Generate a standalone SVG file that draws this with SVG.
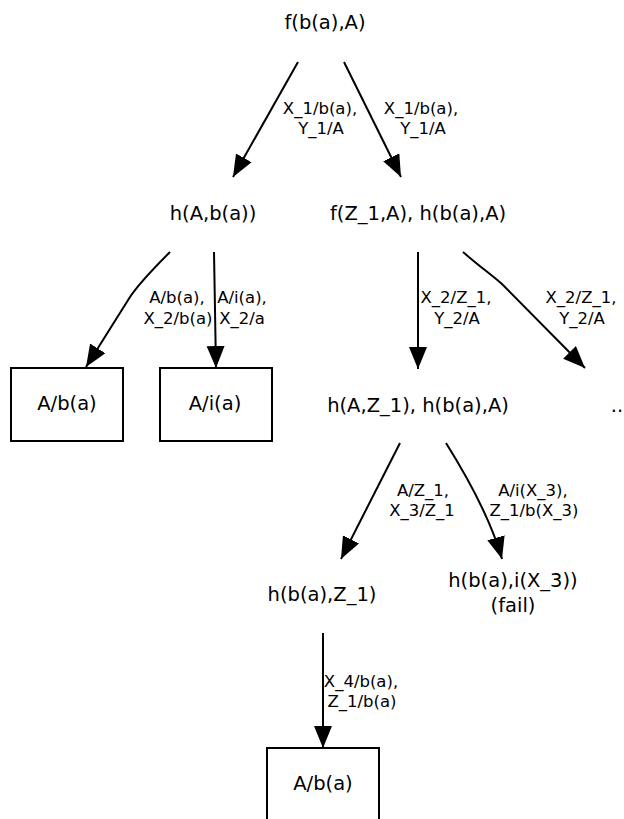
<svg xmlns="http://www.w3.org/2000/svg" width="624" height="819" viewBox="0 0 624 819">
<style>
  .n { font-family: "DejaVu Sans", sans-serif; font-size: 19.5px; fill: #000; text-anchor: middle; }
  .l { font-family: "DejaVu Sans", sans-serif; font-size: 16.5px; fill: #000; text-anchor: middle; }
  .e { fill: none; stroke: #000; stroke-width: 2; }
  .b { fill: #fff; stroke: #000; stroke-width: 2; }
</style>
<defs>
  <marker id="ah" markerUnits="userSpaceOnUse" markerWidth="24" markerHeight="20" refX="22" refY="9" orient="auto">
    <path d="M0,0 L22,9 L0,18 z" fill="#000"/>
  </marker>
</defs>
<rect width="624" height="819" fill="#fff"/>
<g id="edges">
  <path class="e" marker-end="url(#ah)" d="M298,62 L233,177"/>
  <path class="e" marker-end="url(#ah)" d="M344,62 L401,177"/>
  <path class="e" marker-end="url(#ah)" d="M170,252 C150,272 138,285 130,297 L86,367"/>
  <path class="e" marker-end="url(#ah)" d="M214,252 L216,368"/>
  <path class="e" marker-end="url(#ah)" d="M418,252 L418,369"/>
  <path class="e" marker-end="url(#ah)" d="M463,252 C480,267 492,275 503,285 L585,368"/>
  <path class="e" marker-end="url(#ah)" d="M400,443 L341,559"/>
  <path class="e" marker-end="url(#ah)" d="M446,443 Q488,510 502,559"/>
  <path class="e" marker-end="url(#ah)" d="M323,633 L323,748"/>
  <g id="edge-labels">
    <text class="l" x="320" y="114">X_1/b(a),</text>
    <text class="l" x="321" y="134">Y_1/A</text>
    <text class="l" x="421" y="114">X_1/b(a),</text>
    <text class="l" x="423" y="134">Y_1/A</text>
    <text class="l" x="177" y="303">A/b(a),</text>
    <text class="l" x="178" y="324">X_2/b(a)</text>
    <text class="l" x="242" y="303">A/i(a),</text>
    <text class="l" x="242" y="324">X_2/a</text>
    <text class="l" x="456" y="303">X_2/Z_1,</text>
    <text class="l" x="457" y="324">Y_2/A</text>
    <text class="l" x="581" y="303">X_2/Z_1,</text>
    <text class="l" x="582" y="324">Y_2/A</text>
    <text class="l" x="423" y="496">A/Z_1,</text>
    <text class="l" x="422" y="516">X_3/Z_1</text>
    <text class="l" x="533" y="496">A/i(X_3),</text>
    <text class="l" x="534" y="516">Z_1/b(X_3)</text>
    <text class="l" x="361" y="687">X_4/b(a),</text>
    <text class="l" x="362" y="707">Z_1/b(a)</text>
  </g>
</g>
<g id="n_root"><text class="n" x="325" y="29">f(b(a),A)</text></g>
<g id="n_hAba"><text class="n" x="213" y="220">h(A,b(a))</text></g>
<g id="n_fZ1"><text class="n" x="418" y="220">f(Z_1,A), h(b(a),A)</text></g>
<g id="n_box1"><rect class="b" x="11" y="368" width="112" height="73"/><text class="n" x="67" y="410">A/b(a)</text></g>
<g id="n_box2"><rect class="b" x="160" y="368" width="112" height="73"/><text class="n" x="215" y="410">A/i(a)</text></g>
<g id="n_hAZ1"><text class="n" x="418" y="412">h(A,Z_1), h(b(a),A)</text></g>
<g id="n_dots"><text class="n" x="617" y="412">..</text></g>
<g id="n_hbaZ1"><text class="n" x="322" y="601">h(b(a),Z_1)</text></g>
<g id="n_fail"><text class="n" x="513" y="587">h(b(a),i(X_3))</text><text class="n" x="513" y="612">(fail)</text></g>
<g id="n_box3"><rect class="b" x="267" y="748" width="112" height="80"/><text class="n" x="323" y="790">A/b(a)</text></g>
</svg>
